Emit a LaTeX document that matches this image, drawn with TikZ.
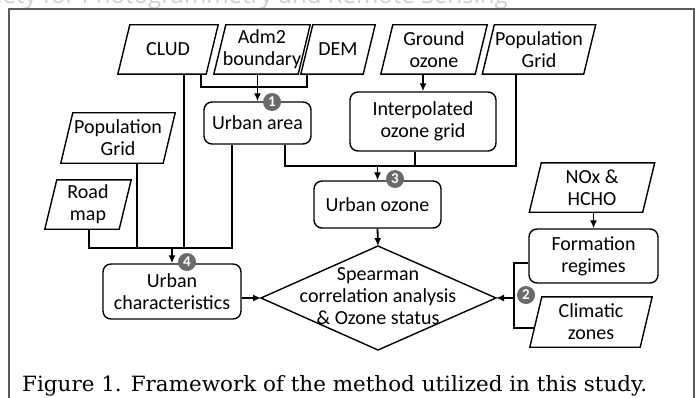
\documentclass[tikz,border=0pt]{standalone}
\usepackage{fontspec}
\usepackage{graphicx}
\setmainfont{Carlito}
\newfontfamily\capfont{DejaVu Serif}
\newfontfamily\wmfont{Open Sans}
\usetikzlibrary{arrows.meta,shapes.geometric}
\definecolor{badgegray}{HTML}{6A6A6A}
\definecolor{framegray}{HTML}{5A5A5A}
\definecolor{wmgray}{HTML}{CFCFCF}
\tikzset{
  txt/.style={align=center,inner sep=0pt,font=\fontsize{20}{22}\selectfont},
  para/.style={txt,minimum height=49pt},
  rbox/.style={txt,draw,rounded corners=8pt,line width=1.4pt},
  boxline/.style={line width=1.4pt,line join=miter},
  conn/.style={line width=1.8pt},
  arr/.style={conn,-{Latex[length=8pt,width=7pt]}},
  badge/.style={circle,fill=badgegray,text=white,inner sep=0pt,minimum size=18pt,font=\fontsize{15}{15}\selectfont\bfseries}
}
\begin{document}
\begin{tikzpicture}[x=1pt,y=-1pt]
\useasboundingbox (0,0) rectangle (700,398);
\clip (0,0) rectangle (700,398);
% watermark
\node[anchor=base east,inner sep=0pt,text=wmgray,font=\wmfont\fontsize{24}{24}\selectfont] (wm) at (508,4) {Society for Photogrammetry and Remote Sensing};
% frame
\draw[framegray,line width=1.6pt] (9,9) rectangle (694,420);
% parallelogram nodes
\node[para,minimum width=88pt] (clud) at (168,49.5) {CLUD};
\node[para,minimum width=84pt] (adm) at (262,49.5) {Adm2\\boundary};
\node[para,minimum width=62pt] (dem) at (338,49.5) {DEM};
\node[para,minimum width=94pt] (go) at (434,49.5) {Ground\\ozone};
\node[para,minimum width=101pt] (popT) at (539,49.5) {Population\\Grid};
\node[para,minimum width=102pt,minimum height=50pt] (popL) at (118,138) {Population\\Grid};
\node[para,minimum width=74pt] (road) at (88,204.5) {Road\\map};
\node[para,minimum width=113pt] (nox) at (592,187.5) {NOx \&\\HCHO};
\node[para,minimum width=110pt,minimum height=50pt] (clim) at (591,322) {Climatic\\zones};
\foreach \n in {clud,adm,dem,go,popT,popL,road,nox,clim}{
  \draw[boxline] ([xshift=6pt]\n.north west) -- ([xshift=6pt]\n.north east)
    -- ([xshift=-6pt]\n.south east) -- ([xshift=-6pt]\n.south west) -- cycle;
}
% rounded boxes
\node[rbox,minimum width=107pt,minimum height=42pt] (ua) at (257.5,123) {Urban area};
\node[rbox,minimum width=146pt,minimum height=59pt] (interp) at (423,121.5) {Interpolated\\ozone grid};
\node[rbox,minimum width=127pt,minimum height=47pt] (uo) at (377.5,204.5) {Urban ozone};
\node[rbox,minimum width=138pt,minimum height=55pt] (uc) at (172,291.5) {Urban\\characteristics};
\node[rbox,minimum width=129pt,minimum height=54pt] (fr) at (593.5,256) {Formation\\regimes};
% diamond
\coordinate (spT) at (378,246);
\coordinate (spB) at (378,350);
\coordinate (spL) at (261,298);
\coordinate (spR) at (496,298);
\draw[boxline] (spT) -- (spR) -- (spB) -- (spL) -- cycle;
\node[txt] (sp) at (378,296) {Spearman\\correlation analysis\\\& Ozone status};
% junction coordinates
\coordinate (j1) at (201,87);
\coordinate (j2) at (307,87);
\coordinate (h4L) at (89,248);
\coordinate (h4R) at (232,248);
\coordinate (c184) at (184,248);
\coordinate (p137) at (137,248);
\coordinate (k1) at (285,166);
\coordinate (k2) at (516,166);
\coordinate (k3) at (415,166);
\coordinate (b1) at (514,263);
\coordinate (b2) at (514,328);
% connectors
\draw[conn] (j1 |- clud.south) -- (j1) -- (j2) -- (j2 |- dem.south);
\draw[arr] (ua.north |- adm.south) -- (ua.north);
\draw[conn] (c184 |- clud.south) -- (c184);
\draw[conn] (p137 |- popL.south) -- (p137);
\draw[conn] (h4L |- road.south) -- (h4L) -- (h4R) -- (h4R |- ua.south);
\draw[arr] (uc.north |- h4L) -- (uc.north);
\draw[conn] (k1 |- ua.south) -- (k1) -- (k2) -- (k2 |- popT.south);
\draw[conn] (k3 |- interp.south) -- (k3);
\draw[arr] (uo.north |- k1) -- (uo.north);
\draw[arr] (interp.north |- go.south) -- (interp.north);
\draw[arr] (uo.south) -- (spT);
\draw[arr] (uc.east |- spL) -- (spL);
\draw[arr] (fr.north |- nox.south) -- (fr.north);
\draw[conn] (fr.west |- b1) -- (b1) -- (b2) -- ([xshift=-1pt]clim.west |- b2);
\draw[arr] (b1 |- spR) -- (spR);
% badges
\node[badge] (n1) at (272,102) {1};
\node[badge] (n2) at (526,295) {2};
\node[badge] (n3) at (395,179) {3};
\node[badge] (n4) at (187,262) {4};
% caption
\node[anchor=base west,inner sep=0pt,font=\capfont\fontsize{21}{21}\selectfont] (cap) at (22,391)
  {\resizebox{625pt}{\height}{Figure 1. Framework of the method utilized in this study.}};
\end{tikzpicture}
\end{document}
